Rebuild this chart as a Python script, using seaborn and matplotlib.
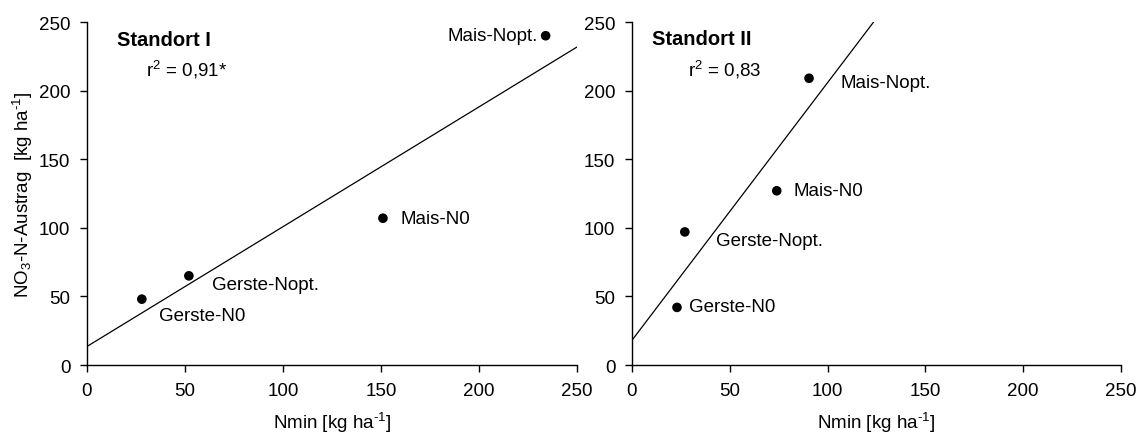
import matplotlib
matplotlib.use("Agg")
import matplotlib.pyplot as plt
import seaborn as sns
import pandas as pd

sns.set_style("ticks")
plt.rcParams["font.family"] = ["Liberation Sans", "DejaVu Sans"]
plt.rcParams["mathtext.fontset"] = "custom"
plt.rcParams["mathtext.rm"] = "Liberation Sans"
plt.rcParams["mathtext.it"] = "Liberation Sans:italic"
plt.rcParams["text.color"] = "black"
plt.rcParams["axes.labelcolor"] = "black"
plt.rcParams["xtick.color"] = "black"
plt.rcParams["ytick.color"] = "black"

# Standort I
crops_1 = ["Gerste-N0", "Gerste-Nopt.", "Mais-N0", "Mais-Nopt."]
nmin_1 = [28, 52, 151, 234]
no3_1 = [48, 65, 107, 240]

# Standort II
crops_2 = ["Gerste-N0", "Gerste-Nopt.", "Mais-N0", "Mais-Nopt."]
nmin_2 = [23, 27, 74, 90.5]
no3_2 = [42, 97, 127, 209]

titles = ["Standort I", "Standort II"]
r2_labels = ["r$^2$ = 0,91*", "r$^2$ = 0,83"]
ticks = [0, 50, 100, 150, 200, 250]

df1 = pd.DataFrame({"Kultur": crops_1, "Nmin": nmin_1, "NO3": no3_1})
df2 = pd.DataFrame({"Kultur": crops_2, "Nmin": nmin_2, "NO3": no3_2})

FS = 13.5
FS_TITLE = 14.5

fig = plt.figure(figsize=(11.41, 4.35), dpi=100)
ax1 = fig.add_axes([0.0762, 0.1586, 0.4295, 0.7885])
ax2 = fig.add_axes([0.5539, 0.1586, 0.4286, 0.7885])

# label placement (data coordinates, alignment)
label_pos_1 = [(37, 36, "left"), (64, 59, "left"), (160, 107, "left"), (230, 240, "right")]
label_pos_2 = [(29, 43, "left"), (43, 91, "left"), (82.5, 127, "left"), (106.5, 206, "left")]

for ax, df, title, r2, lpos, tpos, rpos in [
    (ax1, df1, titles[0], r2_labels[0], label_pos_1, (15.5, 237), (30, 216)),
    (ax2, df2, titles[1], r2_labels[1], label_pos_2, (10.4, 238), (28.7, 216)),
]:
    ax.set_xlim(0, 250)
    ax.set_ylim(0, 250)
    sns.regplot(data=df, x="Nmin", y="NO3", ax=ax, ci=None, truncate=False,
                scatter_kws=dict(s=48, color="black", edgecolor="none", alpha=1),
                line_kws=dict(color="black", lw=0.9))
    ax.set_xlim(0, 250)
    ax.set_ylim(0, 250)
    ax.set_xticks(ticks)
    ax.set_yticks(ticks)
    ax.tick_params(axis="both", labelsize=FS, length=5, width=1, color="black",
                   direction="out", pad=7)
    for s in ["left", "bottom"]:
        ax.spines[s].set_linewidth(1)
        ax.spines[s].set_color("black")
    sns.despine(ax=ax)
    ax.set_xlabel(r"Nmin [kg ha$^{\text{-1}}$]", fontsize=FS, labelpad=8)
    ax.set_ylabel("")
    ax.text(tpos[0], tpos[1], title, fontsize=FS_TITLE, fontweight="bold",
            ha="left", va="center")
    ax.text(rpos[0], rpos[1], r2, fontsize=FS, ha="left", va="center")
    for name, (lx, ly, ha) in zip(df["Kultur"], lpos):
        ax.text(lx, ly, name, fontsize=FS, ha=ha, va="center")

ax1.set_ylabel(r"NO$_3$-N-Austrag  [kg ha$^{\text{-1}}$]", fontsize=FS, labelpad=3)

fig.savefig("out.png", dpi=100)
